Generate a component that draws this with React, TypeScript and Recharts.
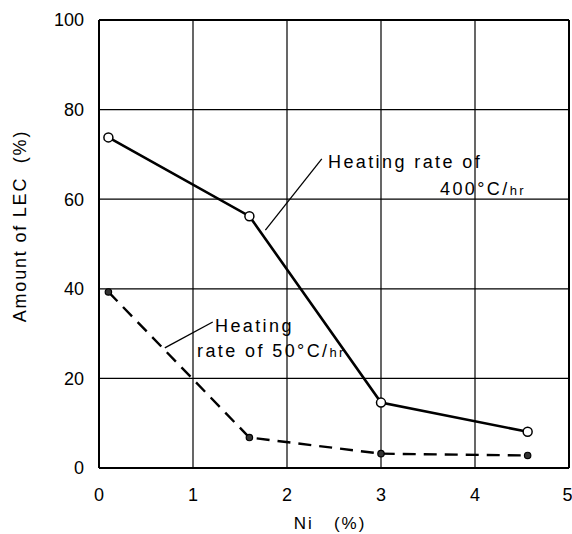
import React from 'react';
import { LineChart, Line, XAxis, YAxis, CartesianGrid, ReferenceLine } from 'recharts';

// Ni content (%) and amount of LEC (%) for each heating rate
const niContent = [0.1, 1.6, 3.0, 4.56];
const lec400 = [73.8, 56.2, 14.6, 8.1];
const lec50 = [39.3, 6.8, 3.2, 2.8];

const xTicks = [0, 1, 2, 3, 4, 5];
const yTicks = [0, 20, 40, 60, 80, 100];

const data = niContent.map((ni, i) => ({ ni, fast: lec400[i], slow: lec50[i] }));

const font = '"Liberation Sans", Arial, sans-serif';

const OpenDot = (props: any) => {
  const { cx, cy } = props;
  return <circle cx={cx} cy={cy} r={4.5} fill="#fff" stroke="#000" strokeWidth={1.5} />;
};

const FilledDot = (props: any) => {
  const { cx, cy } = props;
  return <circle cx={cx} cy={cy} r={3.2} fill="#333" stroke="#000" strokeWidth={1.2} />;
};

const note: React.CSSProperties = {
  position: 'absolute',
  fontFamily: font,
  fontSize: 18,
  letterSpacing: 2.4,
  color: '#000',
  whiteSpace: 'pre',
  lineHeight: '20px',
};

const App = () => {
  return (
    <div style={{ position: 'absolute', left: 0, top: 0, width: 572, height: 534, background: '#fff' }}>
      <LineChart width={572} height={534} data={data} margin={{ top: 20, right: 3, left: 0, bottom: 0 }}>
        <CartesianGrid stroke="#000" strokeWidth={1.2} />
        <XAxis
          dataKey="ni"
          type="number"
          domain={[0, 5]}
          ticks={xTicks}
          height={66}
          tickSize={0}
          tickMargin={20}
          axisLine={{ stroke: '#000', strokeWidth: 2 }}
          tick={{ fill: '#000', fontSize: 18, fontFamily: font }}
          label={{
            content: () => (
              <text x={330} y={529} textAnchor="middle" fontSize={17} fontFamily={font} letterSpacing={2} style={{ whiteSpace: 'pre' }}>
                {'Ni   (%)'}
              </text>
            ),
          }}
        />
        <YAxis
          type="number"
          domain={[0, 100]}
          ticks={yTicks}
          width={99}
          tickSize={0}
          tickMargin={15}
          axisLine={{ stroke: '#000', strokeWidth: 2 }}
          tick={{ fill: '#000', fontSize: 18, fontFamily: font }}
          label={{
            content: () => (
              <text
                x={26}
                y={226}
                textAnchor="middle"
                fontSize={18}
                fontFamily={font}
                letterSpacing={1.8}
                transform="rotate(-90, 26, 226)"
                style={{ whiteSpace: 'pre' }}
              >
                {'Amount of LEC  (%)'}
              </text>
            ),
          }}
        />
        <ReferenceLine y={100} stroke="#000" strokeWidth={2} />
        <ReferenceLine x={5} stroke="#000" strokeWidth={2} />
        <ReferenceLine segment={[{ x: 2.37, y: 69 }, { x: 1.77, y: 53.1 }]} stroke="#000" strokeWidth={1.3} />
        <ReferenceLine segment={[{ x: 1.21, y: 32.6 }, { x: 0.7, y: 26.8 }]} stroke="#000" strokeWidth={1.3} />
        <Line
          dataKey="fast"
          stroke="#000"
          strokeWidth={2.6}
          dot={<OpenDot />}
          activeDot={false}
          isAnimationActive={false}
        />
        <Line
          dataKey="slow"
          stroke="#000"
          strokeWidth={2.4}
          strokeDasharray="13 8"
          dot={<FilledDot />}
          activeDot={false}
          isAnimationActive={false}
        />
      </LineChart>
      <div style={{ ...note, left: 328, top: 152 }}>Heating rate of</div>
      <div style={{ ...note, left: 440, top: 179 }}>
        400°C/<span style={{ fontSize: 13 }}>hr</span>
      </div>
      <div style={{ ...note, left: 215, top: 316 }}>Heating</div>
      <div style={{ ...note, left: 197, top: 341 }}>
        rate of 50°C/<span style={{ fontSize: 13 }}>hr</span>
      </div>
    </div>
  );
};

export default App;
